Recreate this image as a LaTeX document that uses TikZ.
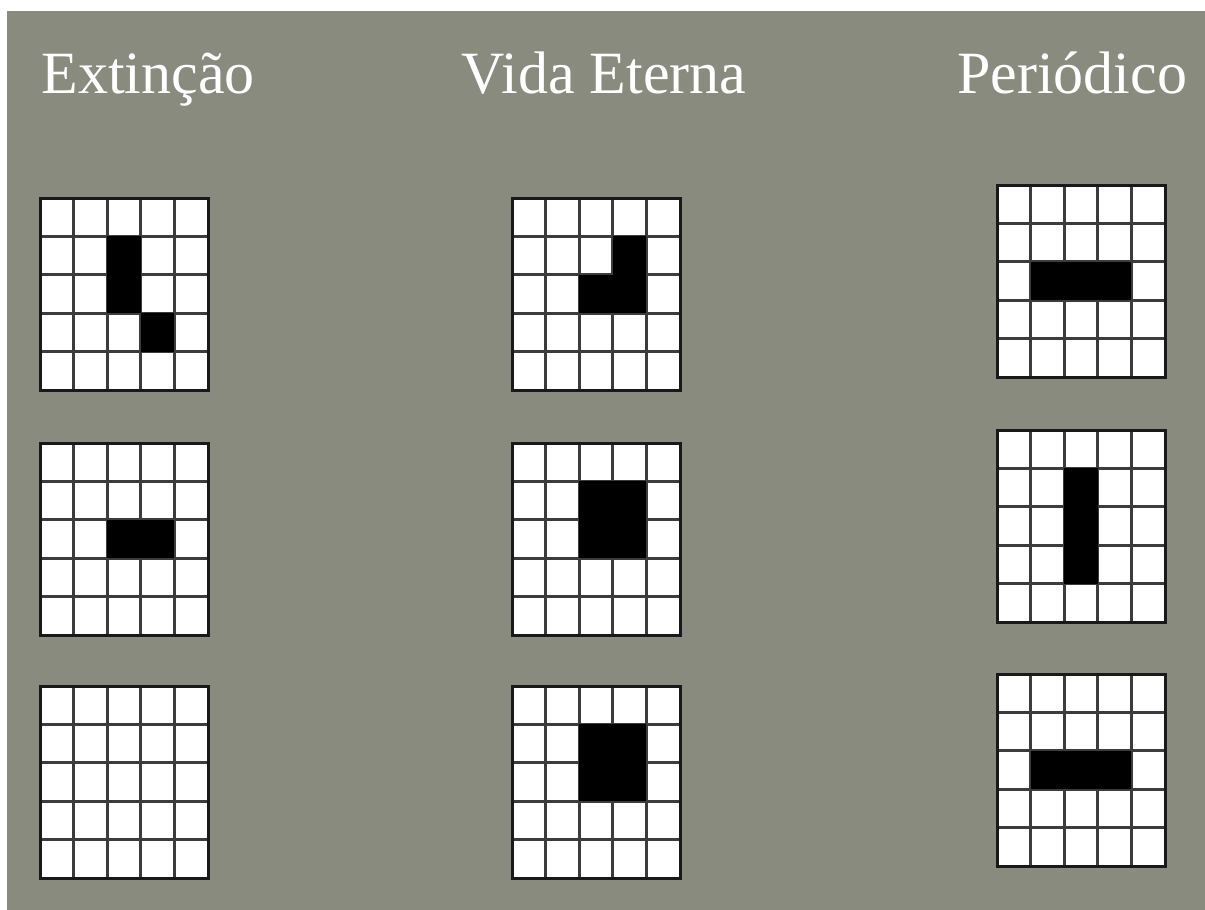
\documentclass[tikz,border=0pt]{standalone}
\usepackage{fontspec}
\setmainfont{Liberation Serif}
\usetikzlibrary{positioning}

\definecolor{slate}{HTML}{898B7F}
\definecolor{gridgray}{HTML}{3C3C3C}

\tikzset{
  title/.style={text=white, font=\fontsize{30}{36}\selectfont, anchor=base},
  alive/.style={fill=black},
  cellline/.style={draw=gridgray, line width=1.4pt},
  frame/.style={draw=black!90, line width=1.5pt}
}

% one 5x5 board: top left corner, then the live cells as col/row
\newcommand{\board}[3]{%
  \begin{scope}[shift={(#1,#2)}]
    \fill[white] (0,0) rectangle (168,192);
    \foreach \i in {1,...,4} {
      \draw[cellline] (\i*33.6,0) -- (\i*33.6,192);
      \draw[cellline] (0,\i*38.4) -- (168,\i*38.4);
    }
    \if\relax\detokenize{#3}\relax\else
      \foreach \c/\r in {#3} {
        \fill[alive] (\c*33.6,\r*38.4) rectangle ++(33.6,38.4);
      }
    \fi
    \draw[frame] (0,0) rectangle (168,192);
  \end{scope}}

\begin{document}
\begin{tikzpicture}[x=0.5pt, y=-0.5pt]

    % Page and backdrop
    \useasboundingbox (0,0) rectangle (1205,910);
    \fill[white] (0,0) rectangle (1205,910);
    \fill[slate] (7,11) rectangle (1205,910);

    % Titles
    \node[title] (extincao) at (148,93) {Extinção};
    \node[title] (vida) at (604,93) {Vida Eterna};
    \node[title] (periodico) at (1072,93) {Periódico};

    % Extinção
    \board{40}{198}{2/1, 2/2, 3/3}
    \board{40}{443}{2/2, 3/2}
    \board{40}{686}{}

    % Vida Eterna
    \board{512}{198}{3/1, 2/2, 3/2}
    \board{512}{443}{2/1, 3/1, 2/2, 3/2}
    \board{512}{686}{2/1, 3/1, 2/2, 3/2}

    % Periódico
    \board{997}{185}{1/2, 2/2, 3/2}
    \board{997}{430}{2/1, 2/2, 2/3}
    \board{997}{674}{1/2, 2/2, 3/2}

\end{tikzpicture}
\end{document}
